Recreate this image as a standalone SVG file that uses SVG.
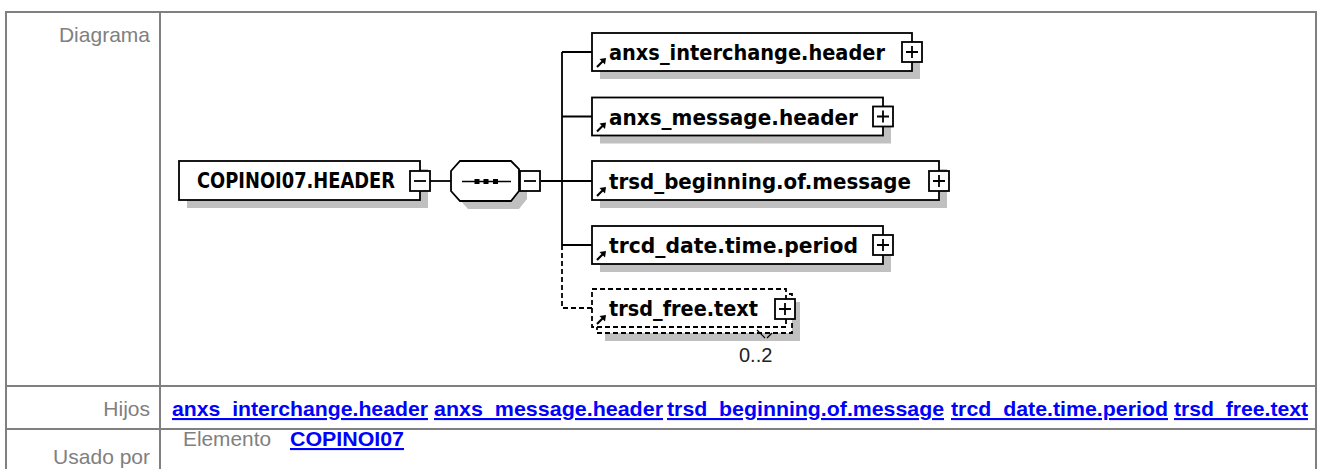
<svg xmlns="http://www.w3.org/2000/svg" width="1318" height="469" viewBox="0 0 1318 469">
<style>
.grid{stroke:#808080;stroke-width:2;fill:none}
.lbl{font-family:"Liberation Sans",Arial,sans-serif;font-size:21px;fill:#808080}
.lnk{font-family:"Liberation Sans",Arial,sans-serif;font-size:21px;font-weight:bold;fill:#0000ff;text-decoration:underline}
.box{fill:#fff;stroke:#000;stroke-width:1.8}
.dbox{fill:#fff;stroke:#000;stroke-width:1.8;stroke-dasharray:5,3}
.shd{fill:#c0c0c0}
.nt{font-family:"DejaVu Sans",Verdana,sans-serif;font-size:21px;font-weight:bold;fill:#000}
.ln{stroke:#000;stroke-width:1.8;fill:none}
.dln{stroke:#000;stroke-width:1.8;fill:none;stroke-dasharray:5,3}
.pm{fill:#fff;stroke:#000;stroke-width:1.8}
</style>
<defs>
<g id="arr"><path d="M0,0 L6,-6" stroke="#000" stroke-width="2.2"/><path d="M9,-9 L2.5,-8 L8,-2.5 Z" fill="#000"/></g>
<g id="plus"><rect class="pm" x="0" y="0" width="20" height="20"/><path d="M4,10 H16 M10,4 V16" stroke="#000" stroke-width="1.8"/></g>
<g id="minus"><rect class="pm" x="0" y="0" width="20" height="20"/><path d="M4,10 H16" stroke="#000" stroke-width="1.8"/></g>
</defs>
<rect width="1318" height="469" fill="#fff"/>
<g id="table">
<rect class="grid" x="6" y="12" width="1310" height="470"/>
<path class="grid" d="M160,12 V469 M6,386 H1316 M6,429 H1316"/>
<text class="lbl" x="150" y="42" text-anchor="end">Diagrama</text>
<text class="lbl" x="150" y="416" text-anchor="end">Hijos</text>
<text class="lbl" x="150" y="464" text-anchor="end">Usado por</text>
<text class="lnk" x="172" y="416" textLength="256" lengthAdjust="spacingAndGlyphs">anxs_interchange.header</text>
<text class="lnk" x="434" y="416" textLength="229" lengthAdjust="spacingAndGlyphs">anxs_message.header</text>
<text class="lnk" x="667" y="416" textLength="277" lengthAdjust="spacingAndGlyphs">trsd_beginning.of.message</text>
<text class="lnk" x="951" y="416" textLength="217" lengthAdjust="spacingAndGlyphs">trcd_date.time.period</text>
<text class="lnk" x="1174" y="416" textLength="134" lengthAdjust="spacingAndGlyphs">trsd_free.text</text>
<text class="lbl" x="183" y="446" textLength="88" lengthAdjust="spacingAndGlyphs">Elemento</text>
<text class="lnk" x="290" y="446" textLength="114" lengthAdjust="spacingAndGlyphs">COPINOI07</text>
</g>
<g id="connectors">
<path class="ln" d="M430,181 H451"/>
<path class="ln" d="M541,181 H562 M562,52 V245 M562,52 H592 M562,116.5 H592 M562,181 H592 M562,245 H592"/>
<path class="dln" d="M562,245 V308 H592"/>
</g>
<g id="root">
<rect class="shd" x="187" y="169" width="241" height="39"/>
<rect class="box" x="179" y="161" width="241" height="39"/>
<text class="nt" x="197" y="188" textLength="198" lengthAdjust="spacingAndGlyphs">COPINOI07.HEADER</text>
<use href="#minus" x="410" y="171"/>
</g>
<g id="sequence">
<polygon class="shd" points="468,169 519,169 527,177 527,199 519,209 468,209 459,199 459,179"/>
<polygon class="box" points="460,161 511,161 519,169 519,191 511,201 460,201 451,191 451,171"/>
<path d="M462,181.5 H511" stroke="#000" stroke-width="1.6"/>
<rect x="474.5" y="179" width="5" height="5" fill="#000"/>
<rect x="483.5" y="179" width="5" height="5" fill="#000"/>
<rect x="493" y="179" width="5" height="5" fill="#000"/>
<use href="#minus" x="520" y="171"/>
</g>
<g id="n1">
<rect class="shd" x="600" y="41" width="320" height="38"/>
<rect class="box" x="592" y="33" width="320" height="38"/>
<use href="#arr" x="597" y="67"/>
<text class="nt" x="609" y="60" textLength="276" lengthAdjust="spacingAndGlyphs">anxs_interchange.header</text>
<use href="#plus" x="902" y="42"/>
</g>
<g id="n2">
<rect class="shd" x="600" y="105.5" width="291" height="38"/>
<rect class="box" x="592" y="97.5" width="291" height="38"/>
<use href="#arr" x="597" y="131.5"/>
<text class="nt" x="609" y="124.5" textLength="249" lengthAdjust="spacingAndGlyphs">anxs_message.header</text>
<use href="#plus" x="873" y="106.5"/>
</g>
<g id="n3">
<rect class="shd" x="600" y="169" width="347" height="39"/>
<rect class="box" x="592" y="161" width="347" height="39"/>
<use href="#arr" x="597" y="196"/>
<text class="nt" x="609" y="189" textLength="302" lengthAdjust="spacingAndGlyphs">trsd_beginning.of.message</text>
<use href="#plus" x="929" y="171"/>
</g>
<g id="n4">
<rect class="shd" x="600" y="234" width="291" height="38"/>
<rect class="box" x="592" y="226" width="291" height="38"/>
<use href="#arr" x="597" y="260"/>
<text class="nt" x="609" y="253" textLength="249" lengthAdjust="spacingAndGlyphs">trcd_date.time.period</text>
<use href="#plus" x="873" y="235"/>
</g>
<g id="n5">
<rect class="shd" x="605" y="302" width="195" height="39"/>
<rect class="dbox" x="597" y="294" width="195" height="39"/>
<rect class="dbox" x="592" y="289" width="194" height="38"/>
<use href="#arr" x="597" y="324"/>
<text class="nt" x="609" y="316" textLength="149" lengthAdjust="spacingAndGlyphs">trsd_free.text</text>
<use href="#plus" x="775" y="299"/>
<path d="M757,330 L765,338 M767,338 L772,333" stroke="#000" stroke-width="1.2" fill="none"/>
<text x="739" y="362" font-family="Liberation Sans,Arial,sans-serif" font-size="20" fill="#222">0..2</text>
</g>
</svg>
